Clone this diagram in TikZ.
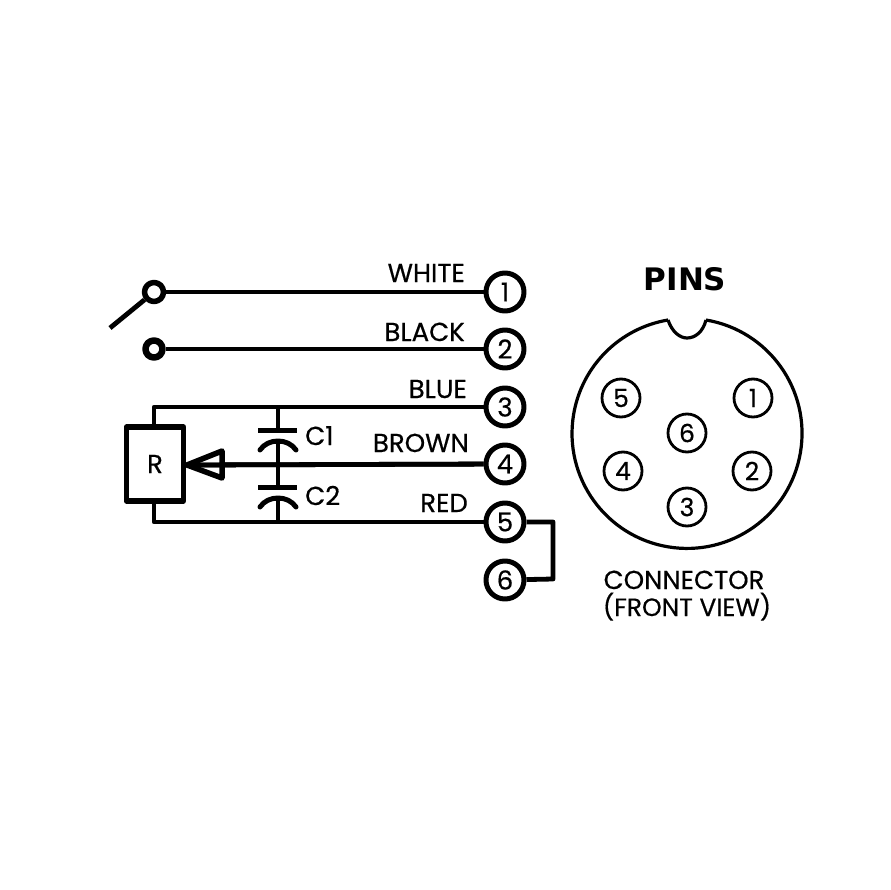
\documentclass[tikz,border=0pt]{standalone}
\usepackage{fontspec}
\setmainfont{Poppins}[FakeBold=0.5]
\newfontfamily\pinsfont{DejaVu Sans Bold}
\begin{document}
\begin{tikzpicture}[x=1pt,y=-1pt,line join=round,
  wire/.style={line width=4.8pt},
  pinbig/.style={circle,draw,line width=5pt,fill=white,minimum size=38pt,inner sep=0pt,font=\fontsize{26}{26}\selectfont},
  pinsmall/.style={circle,draw,line width=2.8pt,fill=white,minimum size=38pt,inner sep=0pt,font=\fontsize{25}{25}\selectfont},
  term/.style={circle,draw,line width=5.5pt,fill=white,minimum size=19pt,inner sep=0pt},
  lab/.style={anchor=base east,inner sep=0pt,font=\fontsize{26}{26}\selectfont},
  clab/.style={anchor=base,inner sep=0pt,font=\fontsize{26}{26}\selectfont},
  plate/.style={line width=5pt,line cap=round}]
\useasboundingbox (0,0) rectangle (890,890);
% terminals
\node[pinbig] (p1) at (505,292) {1};
\node[pinbig] (p2) at (505,349) {2};
\node[pinbig] (p3) at (505,407) {3};
\node[pinbig] (p4) at (505,464) {4};
\node[pinbig] (p5) at (505,522) {5};
\node[pinbig] (p6) at (505,580) {6};
\node[term] (s1) at (154,292) {};
\node[term,minimum size=17pt,line width=6.5pt] (s2) at (154,349) {};
\coordinate (swend) at (110,328);
\node[draw,line width=5.5pt,fill=white,minimum width=57pt,minimum height=74pt,inner sep=0pt,font=\fontsize{26}{26}\selectfont] (R) at (155,464) {R};
% coordinates
\coordinate (c1top) at (278,407);
\coordinate (c1a) at (278,430);
\coordinate (c1b) at (278,441);
\coordinate (c2a) at (278,487);
\coordinate (c2b) at (278,498);
\coordinate (c2bot) at (278,522);
\coordinate (tip) at (187,465);
% wires
\draw[wire] (s1) -- (p1);
\draw[wire] (s2) -- (p2);
\draw[wire] (s1) -- (swend);
\draw[wire] (R.north -| 154,0) -- (154,407) -- (p3);
\draw[wire] (R.south -| 154,0) -- (154,522) -- (p5);
\draw[wire] (tip) -- (p4);
\draw[wire] (p5) -- (553,522) -- (553,579) -- (p6);
% capacitors
\draw[line width=4.5pt] (c1top) -- (c1a) (c1b) -- (c2a) (c2b) -- (c2bot);
\draw[plate,line cap=butt] (258,430) -- (297,430);
\draw[plate,line cap=butt] (258,487) -- (297,487);
\draw[plate] (260,450) .. controls (268,438) and (288,438) .. (296,450);
\draw[plate] (260,507) .. controls (268,495) and (288,495) .. (296,507);
% pot wiper
\draw[line width=5.5pt] (tip) -- (222,451) -- (222,478) -- cycle;
\draw[wire] (tip) -- (p4);
% labels
\node[lab] at (465,282) {WHITE};
\node[lab] at (465,341) {BLACK};
\node[lab] at (467,398) {BLUE};
\node[lab] at (469,452) {BROWN};
\node[lab] at (468,512) {RED};
\node[clab,anchor=base west] at (305,445) {C1};
\node[clab,anchor=base west] at (305,505) {C2};
% connector
\draw[line width=3.2pt] (668,320) .. controls (672,332) and (680,338) .. (687,338) .. controls (695,338) and (703,332) .. (706,320);
\draw[line width=3.2pt] (706,320) arc[start angle=-80.5,end angle=260.5,radius=115];
\node[pinsmall] (k5) at (621,398) {5};
\node[pinsmall] (k1) at (753,398) {1};
\node[pinsmall] (k6) at (687,433) {6};
\node[pinsmall] (k4) at (623,471) {4};
\node[pinsmall] (k2) at (752,471) {2};
\node[pinsmall] (k3) at (687,507) {3};
\node[inner sep=0pt,font=\fontsize{31}{31}\pinsfont] at (685,279) {PINS};
\node[clab] at (684,589) {CONNECTOR};
\node[clab] at (687,616) {\fontsize{25}{25}\selectfont(FRONT VIEW)};
\end{tikzpicture}
\end{document}
